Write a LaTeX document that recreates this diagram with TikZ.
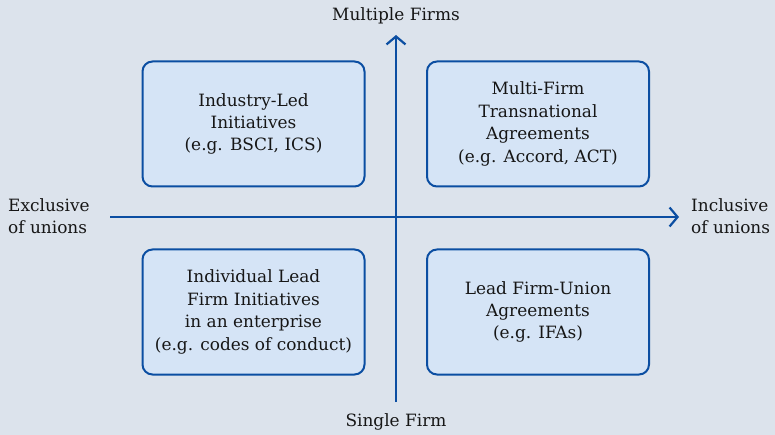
\documentclass[tikz,border=0pt]{standalone}
\usepackage{fontspec}
\setmainfont{DejaVu Serif}
\usetikzlibrary{arrows.meta}
\definecolor{bg}{HTML}{DCE3EC}
\definecolor{boxfill}{HTML}{D5E4F6}
\definecolor{axisblue}{HTML}{0B4EA2}
\definecolor{txt}{HTML}{161616}
\begin{document}
\begin{tikzpicture}[x=1bp,y=-1bp,
  quad/.style={draw=axisblue, line width=2bp, fill=boxfill, rounded corners=10bp,
    minimum width=222bp, minimum height=125bp, align=center, text=txt,
    font=\fontsize{17}{22.5}\selectfont},
  axislabel/.style={text=txt, align=left, inner sep=0pt, font=\fontsize{17}{22.5}\selectfont},
  axisline/.style={draw=axisblue, line width=2.2bp, -{Straight Barb[length=8bp,width=19bp,line width=2.2bp]}}]
\useasboundingbox (0,0) rectangle (775,435);
\fill[bg] (0,0) rectangle (775,435);
\coordinate (vb) at (396,402);
\coordinate (vt) at (396,35);
\coordinate (hl) at (110,217);
\coordinate (hr) at (679,217);
\draw[axisline] (vb) -- (vt);
\draw[axisline] (hl) -- (hr);
\node[quad] (tl) at (253.5,124) {Industry-Led\\Initiatives\\(e.g. BSCI, ICS)};
\node[quad] (tr) at (538,124) {Multi-Firm\\Transnational\\Agreements\\(e.g. Accord, ACT)};
\node[quad] (bl) at (253.5,312) {Individual Lead\\Firm Initiatives\\in an enterprise\\(e.g. codes of conduct)};
\node[quad] (br) at (538,312) {Lead Firm-Union\\Agreements\\(e.g. IFAs)};
\node[axislabel, align=center] (top) at (396,16) {Multiple Firms};
\node[axislabel, align=center] (bot) at (396,422) {Single Firm};
\node[axislabel, anchor=west] (left) at (8,216) {Exclusive\\of unions};
\node[axislabel, anchor=west] (right) at (691,216) {Inclusive\\of unions};
\end{tikzpicture}
\end{document}
